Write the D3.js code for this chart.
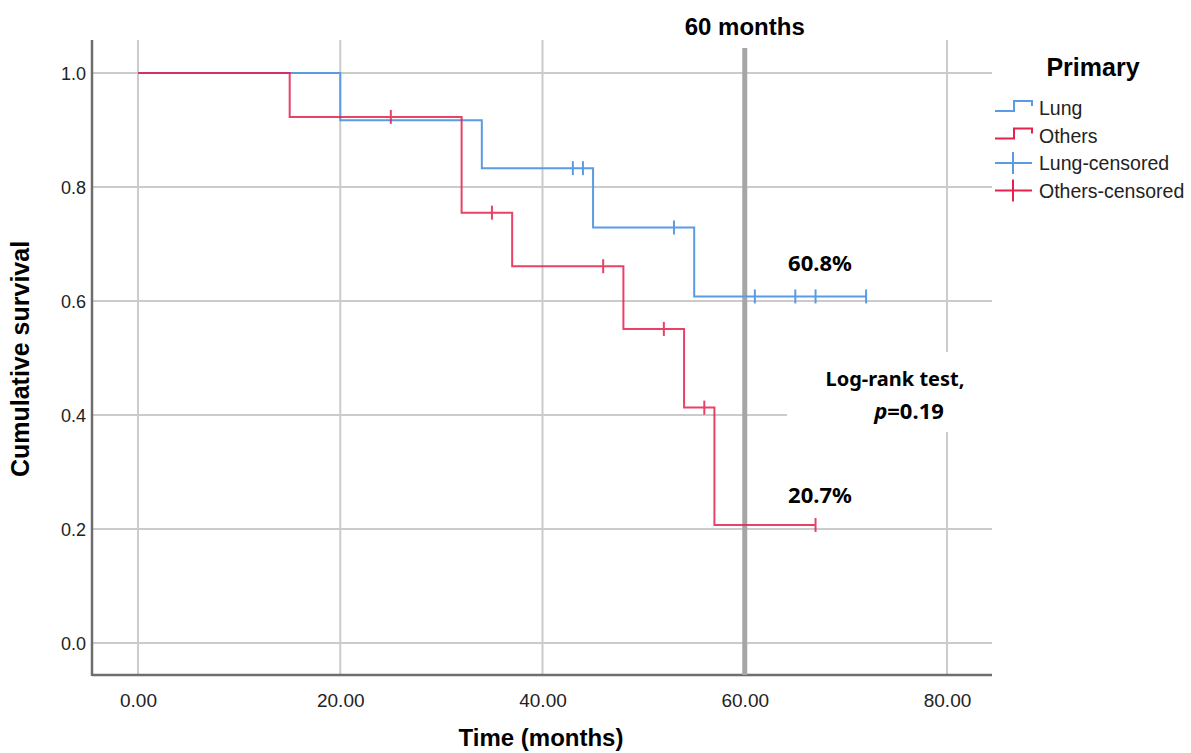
<!DOCTYPE html>
<html>
<head>
<meta charset="utf-8">
<script src="https://cdn.jsdelivr.net/npm/d3@7"></script>
<style>
  body { margin: 0; background: #fff; }
  svg { display: block; font-family: "Liberation Sans", Arial, sans-serif; }
</style>
</head>
<body>
<svg width="1191" height="753"></svg>
<script>
// Kaplan-Meier steps: time of each event and survival after it
var lungTimes = [0, 20, 34, 45, 55, 72];
var lungSurv = [1.0, 0.917, 0.833, 0.729, 0.608, 0.608];
var lungCensored = [43, 44, 53, 61, 65, 67, 72];

var otherTimes = [0, 15, 32, 37, 48, 54, 57, 67];
var otherSurv = [1.0, 0.923, 0.755, 0.661, 0.551, 0.413, 0.207, 0.207];
var otherCensored = [25, 35, 46, 52, 56, 67];

var xTicks = [0, 20, 40, 60, 80];
var yTicks = [0, 0.2, 0.4, 0.6, 0.8, 1.0];
var legendLabels = ["Lung", "Others", "Lung-censored", "Others-censored"];

var blue = "#5b9be3", red = "#e5224d";

var svg = d3.select("svg");
var x = d3.scaleLinear().domain([0, 80]).range([138, 947]);
var y = d3.scaleLinear().domain([0, 1]).range([643, 73]);
var plotLeft = 92, plotRight = 992, plotTop = 40, plotBottom = 675;

// gridlines
svg.append("g").selectAll("line.h")
    .data(yTicks).enter().append("line")
    .attr("x1", plotLeft).attr("x2", function(d) { return d == 0.4 ? 787 : plotRight; })
    .attr("y1", function(d) { return y(d); }).attr("y2", function(d) { return y(d); })
    .style("stroke", "#cbcbcb").style("stroke-width", 2);

svg.append("g").selectAll("line.v")
    .data(xTicks.filter(function(d) { return d != 60; })).enter().append("line")
    .attr("x1", function(d) { return x(d); }).attr("x2", function(d) { return x(d); })
    .attr("y1", plotTop).attr("y2", plotBottom)
    .style("stroke", "#cbcbcb").style("stroke-width", 2);

// axes
var xAxis = d3.axisBottom(x).tickValues(xTicks).tickSize(0).tickFormat(d3.format(".2f"));
var yAxis = d3.axisLeft(y).tickValues(yTicks).tickSize(0).tickFormat(d3.format(".1f"));

svg.append("g").attr("transform", "translate(0," + plotBottom + ")").call(xAxis)
    .call(function(g) { g.select(".domain").remove(); })
    .selectAll("text").attr("dy", 0).attr("y", 32)
    .style("font-size", "19px").style("font-family", "'Liberation Sans', Arial, sans-serif").style("fill", "#222");

svg.append("g").attr("transform", "translate(" + plotLeft + ",0)").call(yAxis)
    .call(function(g) { g.select(".domain").remove(); })
    .selectAll("text").attr("x", -6).attr("dy", "0.35em")
    .style("font-size", "18px").style("font-family", "'Liberation Sans', Arial, sans-serif").style("fill", "#222");

svg.append("line").attr("x1", plotLeft).attr("x2", plotLeft).attr("y1", plotTop).attr("y2", plotBottom + 1)
    .style("stroke", "#6e6e6e").style("stroke-width", 2.5);
svg.append("line").attr("x1", plotLeft).attr("x2", plotRight).attr("y1", plotBottom).attr("y2", plotBottom)
    .style("stroke", "#6e6e6e").style("stroke-width", 2.5);

// 60 month reference line
svg.append("line").attr("x1", x(60)).attr("x2", x(60)).attr("y1", 48).attr("y2", plotBottom)
    .style("stroke", "#a6a6a6").style("stroke-width", 5);

// curves
function stepData(times, surv) {
    return times.map(function(t, i) { return [t, surv[i]]; });
}
var line = d3.line().x(function(d) { return x(d[0]); }).y(function(d) { return y(d[1]); })
    .curve(d3.curveStepAfter);

function survAt(times, surv, t) {
    var s = surv[0];
    for (var i = 0; i < times.length; i++) if (times[i] <= t) s = surv[i];
    return s;
}

function drawGroup(times, surv, cens, color, op) {
    var g = svg.append("g").style("opacity", op);
    g.append("path").attr("d", line(stepData(times, surv)))
        .style("fill", "none").style("stroke", color).style("stroke-width", 2);
    g.selectAll("line.c").data(cens).enter().append("line")
        .attr("x1", function(d) { return x(d); }).attr("x2", function(d) { return x(d); })
        .attr("y1", function(d) { return y(survAt(times, surv, d)) - 7; })
        .attr("y2", function(d) { return y(survAt(times, surv, d)) + 7; })
        .style("stroke", color).style("stroke-width", 2);
}
drawGroup(lungTimes, lungSurv, lungCensored, blue, 1);
drawGroup(otherTimes, otherSurv, otherCensored, red, 0.85);

// annotations
svg.append("text").attr("x", x(60)).attr("y", 35).attr("text-anchor", "middle")
    .style("font-weight", "bold").style("font-size", "24px").text("60 months");

svg.append("rect").attr("x", 788).attr("y", 352).attr("width", 205).attr("height", 80)
    .style("fill", "#fff");

var ann = svg.append("g").style("font-family", "'Noto Sans', sans-serif")
    .style("font-weight", "bold").style("font-size", "22px").attr("text-anchor", "middle");
ann.append("text").attr("x", 820).attr("y", 271).text("60.8%");
ann.append("text").attr("x", 820).attr("y", 503).text("20.7%");
ann.append("text").attr("x", 895).attr("y", 386).style("font-size", "20px").text("Log-rank test,");
var pt = ann.append("text").attr("x", 909).attr("y", 419).style("font-size", "22px");
pt.append("tspan").style("font-style", "italic").text("p");
pt.append("tspan").text("=0.19");

// axis titles
svg.append("text").attr("transform", "translate(29,359) rotate(-90)").attr("text-anchor", "middle")
    .style("font-weight", "bold").style("font-size", "25px").text("Cumulative survival");
svg.append("text").attr("x", 541).attr("y", 746).attr("text-anchor", "middle")
    .style("font-weight", "bold").style("font-size", "24px").text("Time (months)");

// legend
svg.append("text").attr("x", 1093).attr("y", 76).attr("text-anchor", "middle")
    .style("font-weight", "bold").style("font-size", "25px").text("Primary");

var legend = svg.selectAll(".legend").data(legendLabels).enter().append("g")
    .attr("class", "legend")
    .attr("transform", function(d, i) { return "translate(995," + (111 + i * 27.5) + ")"; });

legend.each(function(d, i) {
    var g = d3.select(this);
    var c = (i % 2 == 0) ? blue : red;
    if (i < 2) {
        g.append("path").attr("d", "M0,0H19V-10H37V-5")
            .style("fill", "none").style("stroke", c).style("stroke-width", 2);
    } else {
        g.append("line").attr("x1", 0).attr("x2", 37).attr("y1", -3).attr("y2", -3)
            .style("stroke", c).style("stroke-width", 2);
        g.append("line").attr("x1", 18).attr("x2", 18).attr("y1", -14).attr("y2", 8)
            .style("stroke", c).style("stroke-width", 2);
    }
    g.append("text").attr("x", 44).attr("y", 4).style("font-size", "19.5px")
        .style("fill", "#222").text(d);
});
</script>
</body>
</html>
